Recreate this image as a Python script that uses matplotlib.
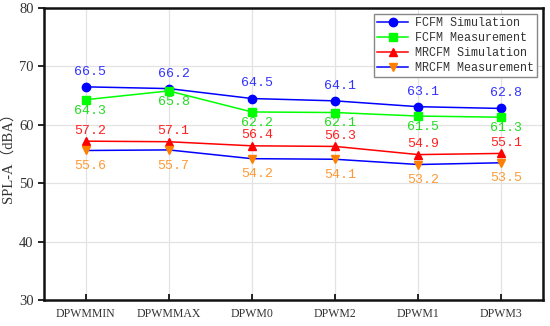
import matplotlib
matplotlib.use("Agg")
import matplotlib.pyplot as plt

categories = ["DPWMMIN", "DPWMMAX", "DPWM0", "DPWM2", "DPWM1", "DPWM3"]
fcfm_sim = [66.5, 66.2, 64.5, 64.1, 63.1, 62.8]
fcfm_meas = [64.3, 65.8, 62.2, 62.1, 61.5, 61.3]
mrcfm_sim = [57.2, 57.1, 56.4, 56.3, 54.9, 55.1]
mrcfm_meas = [55.6, 55.7, 54.2, 54.1, 53.2, 53.5]
y_ticks = [30, 40, 50, 60, 70, 80]

SERIF = ["Liberation Serif", "Noto Sans CJK SC"]
MONO = ["Liberation Mono", "DejaVu Sans Mono"]
plt.rcParams["font.family"] = SERIF

fig = plt.figure(figsize=(5.5, 3.26), dpi=100)
ax = fig.add_axes([44 / 550, 26 / 326, 499 / 550, 292 / 326])

x = list(range(len(categories)))
# values, label, line colour, marker colour, marker, text colour, text offset (pt)
series = [
    (fcfm_sim, "FCFM Simulation", "#0000FF", "#0000FF", "o", "#3333FF", 6.5),
    (fcfm_meas, "FCFM Measurement", "#00FF00", "#00FF00", "s", "#22DD22", -3.5),
    (mrcfm_sim, "MRCFM Simulation", "#FF0000", "#FF0000", "^", "#FF2020", 3.2),
    (mrcfm_meas, "MRCFM Measurement", "#0000FF", "#FF8000", "v", "#FF9933", -7),
]
for vals, label, lc, mc, mk, tc, dy in series:
    ax.plot(x, vals, color=lc, linewidth=1.1, marker=mk, markersize=6,
            markerfacecolor=mc, markeredgecolor=mc, label=label)
    for xi, v in zip(x, vals):
        ax.annotate(f"{v:.1f}", (xi, v),
                    xytext=(3.5, dy), textcoords="offset points",
                    ha="center", va="bottom" if dy > 0 else "top",
                    color=tc, fontsize=9.5, family=MONO)

ax.set_xlim(-0.5, 5.5)
ax.set_ylim(30, 80)
ax.set_yticks(y_ticks)
ax.set_xticks(x)
ax.set_xticklabels(categories, fontsize=8.5, color="#333333")
ax.tick_params(axis="y", direction="out", length=4, labelsize=10.5,
               labelcolor="#333333", width=1.2)
ax.tick_params(axis="x", direction="in", length=4, width=1.2, pad=6)
ax.grid(True, color="#E3E3E3", linewidth=0.9)
ax.set_axisbelow(True)
for spine in ax.spines.values():
    spine.set_linewidth(1.8)
    spine.set_color("#111111")
ax.set_ylabel("SPL-A（dBA）", fontsize=10.5, color="#333333")
ax.yaxis.set_label_coords(-0.058, 0.5)

leg = ax.legend(loc="upper right", fancybox=False, edgecolor="#888888",
                framealpha=1, borderpad=0.25, labelspacing=0.25, handlelength=2.6,
                handletextpad=0.6, borderaxespad=0.5,
                prop={"family": MONO, "size": 8.5})
for t in leg.get_texts():
    t.set_color("#333333")

fig.savefig("out.png", dpi=100)
